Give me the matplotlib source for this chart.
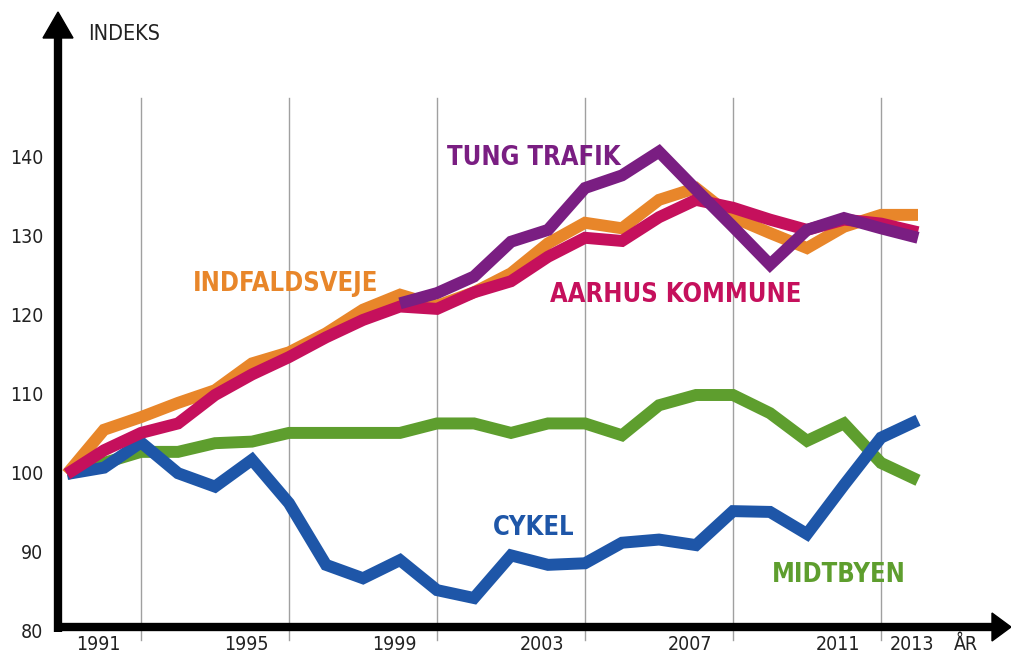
import numpy as np
import matplotlib
matplotlib.use("Agg")
import matplotlib.pyplot as plt
from matplotlib.patches import Polygon

years = list(range(1990, 2014))

# index values, 1990 = 100
indfaldsveje = [100, 105.6, 107.2, 109.0, 110.6, 114.0, 115.4, 117.8, 120.8, 122.7, 121.3, 123.0,
                125.4, 129.2, 131.8, 131.1, 134.7, 136.2, 132.5, 130.5, 128.6, 131.3, 132.8, 132.8]
aarhus = [100, 103.0, 105.2, 106.4, 110.0, 112.6, 114.8, 117.3, 119.5, 121.2, 120.9, 123.0,
          124.4, 127.5, 129.9, 129.5, 132.5, 134.7, 133.7, 132.2, 130.9, 132.2, 131.7, 130.6]
tung_years = list(range(1999, 2014))
tung = [121.6, 122.9, 125.0, 129.4, 130.9, 136.2, 137.8, 140.8, 136.0, 131.3, 126.5, 130.9,
        132.4, 131.1, 129.9]
midtbyen = [100, 101.4, 102.8, 102.8, 103.9, 104.1, 105.2, 105.2, 105.2, 105.2, 106.4, 106.4,
            105.2, 106.4, 106.4, 104.9, 108.7, 110.0, 110.0, 107.7, 104.2, 106.4, 101.4, 99.2]
cykel = [100, 100.8, 104.0, 100.1, 98.4, 101.8, 96.3, 88.5, 86.8, 89.1, 85.3, 84.3,
         89.7, 88.5, 88.7, 91.3, 91.7, 91.0, 95.3, 95.2, 92.4, 98.6, 104.6, 106.8]

ytick_vals = [80, 90, 100, 110, 120, 130, 140]
xtick_years = [1991, 1995, 1999, 2003, 2007, 2011, 2013]
grid_years = [1992, 1996, 2000, 2004, 2008, 2012]

ORANGE = "#e8862a"
MAGENTA = "#c5105c"
PURPLE = "#7a1e82"
GREEN = "#5e9e2e"
BLUE = "#1e56a8"

W, H = 1011, 658
# pixel scale of the drawing
X0, XS = 67, 37.0      # pixel of 1990, pixels per year
Y0, YS = 474, 7.9      # pixel of index 100, pixels per index point

def yr(px):
    return 1990 + (px - X0) / XS

def val(py):
    return 100 + (Y0 - py) / YS

fig = plt.figure(figsize=(W / 100, H / 100), dpi=100)
ax = fig.add_axes([0, 0, 1, 1])
ax.set_xlim(yr(0), yr(W))
ax.set_ylim(val(H), val(0))
ax.axis("off")

font = ["DejaVu Sans"]
txt = dict(family=font, fontstretch="condensed")

# grid lines
for g in grid_years:
    ax.plot([g, g], [val(640), val(98)], color="#a0a0a0", lw=1, zorder=1)

# axes with arrows
ax.plot([yr(58), yr(58)], [val(632), val(36)], color="black", lw=6, solid_capstyle="butt", zorder=5)
ax.plot([yr(54), yr(995)], [val(627), val(627)], color="black", lw=6, solid_capstyle="butt", zorder=5)
ax.add_patch(Polygon([[yr(43), val(38)], [yr(73), val(38)], [yr(58), val(12)]],
                     closed=True, color="black", zorder=6))
ax.add_patch(Polygon([[yr(992), val(613)], [yr(992), val(641)], [yr(1011), val(627)]],
                     closed=True, color="black", zorder=6))

lw = 8.6
kw = dict(lw=lw, solid_joinstyle="miter", solid_capstyle="butt")
ax.plot(years, midtbyen, color=GREEN, zorder=2, **kw)
ax.plot(years, cykel, color=BLUE, zorder=3, **kw)
ax.plot(years, indfaldsveje, color=ORANGE, zorder=3, **kw)
ax.plot(years, aarhus, color=MAGENTA, zorder=4, **kw)
ax.plot(tung_years, tung, color=PURPLE, zorder=4.5, **kw)

# tick labels
for v in ytick_vals:
    ax.text(yr(43), v, str(v), ha="right", va="center", fontsize=14, color="#222222", **txt)
for y in xtick_years:
    ax.text(y - 0.15, val(635), str(y), ha="center", va="top", fontsize=14, color="#222222", **txt)
ax.text(yr(966), val(635), "ÅR", ha="center", va="top", fontsize=14, color="#222222", **txt)
ax.text(yr(88), val(34), "INDEKS", ha="left", va="center", fontsize=15.5, color="#222222", **txt)

# series labels
lab = dict(fontsize=18.4, fontweight="bold", va="center", ha="left", **txt)
ax.text(yr(447), val(158), "TUNG TRAFIK", color=PURPLE, **lab)
ax.text(yr(193), val(284), "INDFALDSVEJE", color=ORANGE, **lab)
ax.text(yr(550), val(295), "AARHUS KOMMUNE", color=MAGENTA, **lab)
ax.text(yr(493), val(528), "CYKEL", color=BLUE, **lab)
ax.text(yr(772), val(575), "MIDTBYEN", color=GREEN, **lab)

fig.savefig("out.png", dpi=100)
